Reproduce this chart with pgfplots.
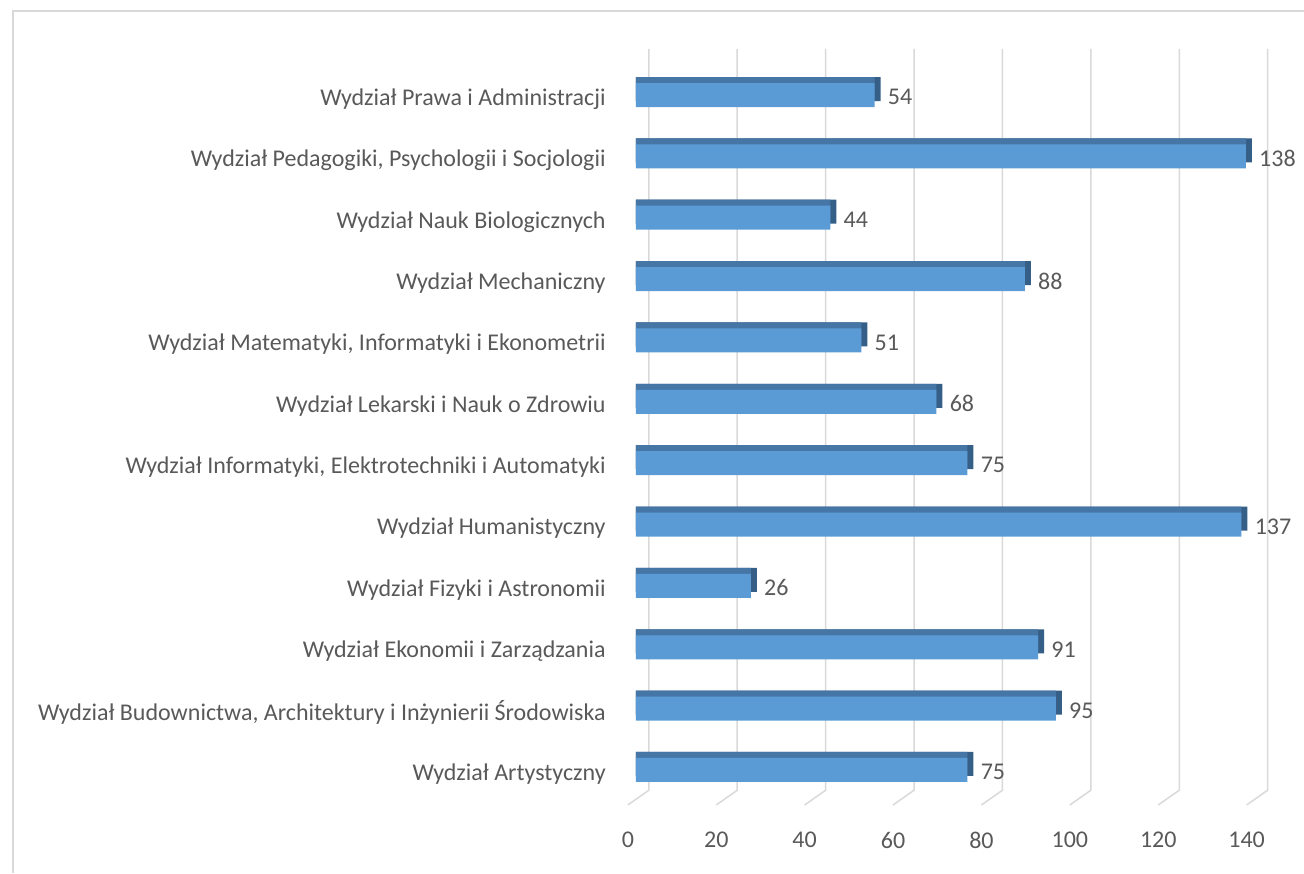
\documentclass[border=0pt]{standalone}
\usepackage{fontspec}
\setmainfont{Carlito}
\usepackage{pgfplots}
\pgfplotsset{compat=1.18}
\usepackage{pgfplotstable}
\definecolor{frontc}{HTML}{5B9BD5}
\definecolor{topc}{HTML}{4676A6}
\definecolor{sidec}{HTML}{365F88}
\definecolor{gridc}{HTML}{D9D9D9}
\definecolor{txtc}{HTML}{595959}

\pgfplotstableread{
idx v
0 75
1 95
2 91
3 26
4 137
5 75
6 68
7 51
8 88
9 44
10 138
11 54
}\data

\begin{document}
\begin{tikzpicture}
\path[use as bounding box] (0,0) rectangle (652pt,436.5pt);
\draw[gridc, line width=1pt] (6.5pt,0) -- (6.5pt,431pt) -- (652pt,431pt);
\begin{axis}[
  at={(313.5pt,33.1pt)}, anchor=south west,
  scale only axis, width=320.45pt, height=378.9pt,
  xmin=-2, xmax=143, ymin=-0.6, ymax=11.75,
  axis line style={draw=none},
  major tick length=0,
  clip=false,
  /pgf/number format/assume math mode=true,
  xtick={-1.81,18.19,38.19,58.19,78.19,98.19,118.19,138.19},
  xticklabels={0,20,40,60,80,100,120,140},
  ytick={0,1,2,3,4,5,6,7,8,9,10,11},
  yticklabels={Wydział Artystyczny,
    {Wydział Budownictwa, Architektury i Inżynierii Środowiska},
    Wydział Ekonomii i Zarządzania,
    Wydział Fizyki i Astronomii,
    Wydział Humanistyczny,
    {Wydział Informatyki, Elektrotechniki i Automatyki},
    Wydział Lekarski i Nauk o Zdrowiu,
    {Wydział Matematyki, Informatyki i Ekonometrii},
    Wydział Mechaniczny,
    Wydział Nauk Biologicznych,
    {Wydział Pedagogiki, Psychologii i Socjologii},
    Wydział Prawa i Administracji},
  tick label style={font=\fontsize{12}{14}\selectfont, text=txtc, inner sep=0pt},
  xticklabel style={anchor=center, yshift=-16.6pt},
  yticklabel style={anchor=east, xshift=-10.5pt, yshift=-2pt},
]
\addplot[gridc, line width=0.75pt] coordinates {(2.94,11.75) (2.94,-0.33) (-1.81,-0.57)};
\addplot[gridc, line width=0.75pt] coordinates {(22.94,11.75) (22.94,-0.33) (18.19,-0.57)};
\addplot[gridc, line width=0.75pt] coordinates {(42.94,11.75) (42.94,-0.33) (38.19,-0.57)};
\addplot[gridc, line width=0.75pt] coordinates {(62.94,11.75) (62.94,-0.33) (58.19,-0.57)};
\addplot[gridc, line width=0.75pt] coordinates {(82.94,11.75) (82.94,-0.33) (78.19,-0.57)};
\addplot[gridc, line width=0.75pt] coordinates {(102.94,11.75) (102.94,-0.33) (98.19,-0.57)};
\addplot[gridc, line width=0.75pt] coordinates {(122.94,11.75) (122.94,-0.33) (118.19,-0.57)};
\addplot[gridc, line width=0.75pt] coordinates {(142.94,11.75) (142.94,-0.33) (138.19,-0.57)};
\addplot[xbar, bar width=12pt, bar shift=3pt, fill=sidec, draw=none]
  table[x expr=\thisrow{v}+1.36, y=idx]{\data};
\addplot[xbar, bar width=12pt, bar shift=3pt, fill=topc, draw=none]
  table[x=v, y=idx]{\data};
\addplot[xbar, bar width=12pt, bar shift=0pt, fill=frontc, draw=none,
  nodes near coords,
  nodes near coords style={anchor=west, inner sep=0pt, xshift=6.5pt, yshift=-1pt,
    font=\fontsize{12}{14}\selectfont, text=txtc}]
  table[x=v, y=idx]{\data};
\end{axis}
\end{tikzpicture}
\end{document}
